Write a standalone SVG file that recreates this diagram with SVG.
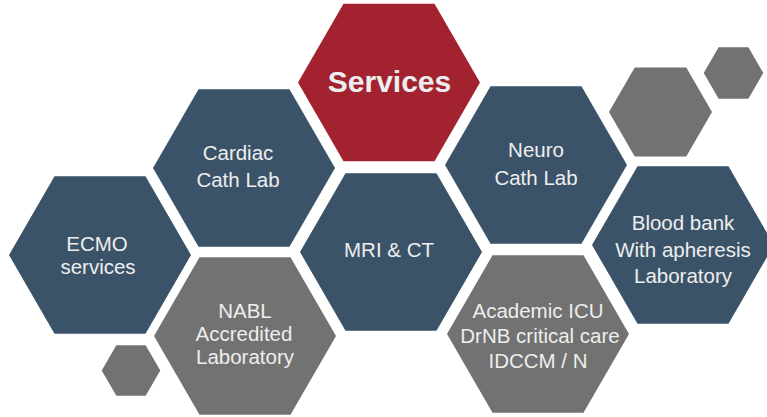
<svg xmlns="http://www.w3.org/2000/svg" xmlns:xlink="http://www.w3.org/1999/xlink" width="767" height="417" viewBox="0 0 767 417">
<defs>
<style>
.red{fill:#A3222F}
.navy{fill:#3B5368}
.gray{fill:#717271}
text{font-family:"Liberation Sans",Arial,sans-serif;fill:#EEEEEE;text-anchor:middle;font-size:20.5px}
.title{font-size:30px;font-weight:bold}
</style>
<path id="hex" d="M-91,0 L-45.5,-78.8 L45.5,-78.8 L91,0 L45.5,78.8 L-45.5,78.8Z"/>
</defs>
<rect width="767" height="417" fill="#FFFFFF"/>
<g id="services">
<use xlink:href="#hex" class="red" transform="translate(389,82.5)"/>
<text class="title" x="389.5" y="92">Services</text>
</g>
<g id="cardiac">
<use xlink:href="#hex" class="navy" transform="translate(244,168)"/>
<text x="238" y="160">Cardiac</text>
<text x="238" y="187">Cath Lab</text>
</g>
<g id="ecmo">
<use xlink:href="#hex" class="navy" transform="translate(100,255)"/>
<text x="97" y="251">ECMO</text>
<text x="98" y="274">services</text>
</g>
<g id="nabl">
<use xlink:href="#hex" class="gray" transform="translate(245,336)"/>
<text x="245" y="318">NABL</text>
<text x="244" y="341">Accredited</text>
<text x="245" y="364">Laboratory</text>
</g>
<g id="mri">
<use xlink:href="#hex" class="navy" transform="translate(391,252)"/>
<text x="389" y="257">MRI &amp; CT</text>
</g>
<g id="neuro">
<use xlink:href="#hex" class="navy" transform="translate(536,165)"/>
<text x="536" y="157">Neuro</text>
<text x="536" y="185">Cath Lab</text>
</g>
<g id="academic">
<use xlink:href="#hex" class="gray" transform="translate(538,334)"/>
<text x="538" y="318">Academic ICU</text>
<text x="540" y="343">DrNB critical care</text>
<text x="538" y="368">IDCCM / N</text>
</g>
<g id="bloodbank">
<use xlink:href="#hex" class="navy" transform="translate(683,245)"/>
<text x="683" y="230">Blood bank</text>
<text x="683" y="257">With apheresis</text>
<text x="683" y="283">Laboratory</text>
</g>
<g id="deco-gray-large">
<use xlink:href="#hex" class="gray" transform="translate(660.5,112) scale(0.566)"/>
</g>
<g id="deco-gray-small">
<use xlink:href="#hex" class="gray" transform="translate(733.5,73) scale(0.327)"/>
</g>
<g id="deco-gray-bottom">
<use xlink:href="#hex" class="gray" transform="translate(131,370.5) scale(0.322)"/>
</g>
<g id="connectors"></g>
</svg>
